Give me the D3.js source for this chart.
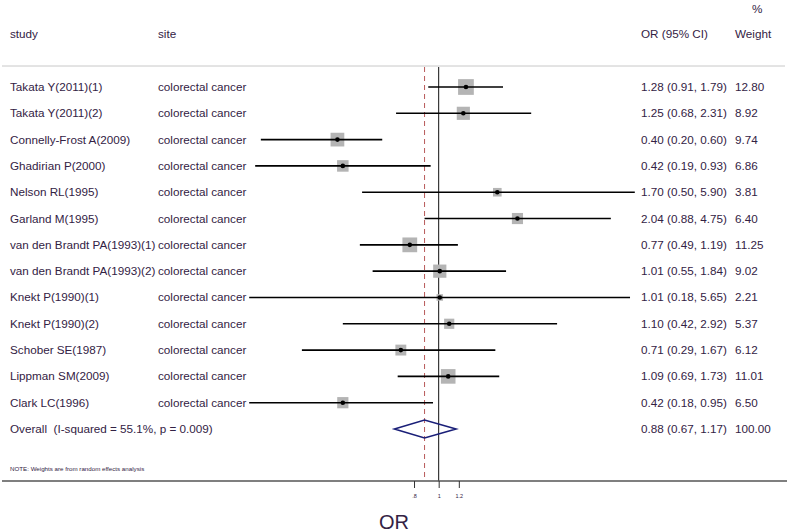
<!DOCTYPE html>
<html>
<head>
<meta charset="utf-8">
<script src="https://cdn.jsdelivr.net/npm/d3@7"></script>
<style>
  body { margin: 0; background: #fff; }
  text { font-family: Arial, "Liberation Sans", sans-serif; fill: #332244; white-space: pre; }
</style>
</head>
<body>
<svg id="forest"></svg>
<script>
// study rows
const studies = ["Takata Y(2011)(1)", "Takata Y(2011)(2)", "Connelly-Frost A(2009)", "Ghadirian P(2000)",
  "Nelson RL(1995)", "Garland M(1995)", "van den Brandt PA(1993)(1)", "van den Brandt PA(1993)(2)",
  "Knekt P(1990)(1)", "Knekt P(1990)(2)", "Schober SE(1987)", "Lippman SM(2009)", "Clark LC(1996)"];
const sites = studies.map(() => "colorectal cancer");
const or = [1.28, 1.25, 0.40, 0.42, 1.70, 2.04, 0.77, 1.01, 1.01, 1.10, 0.71, 1.09, 0.42];
const lower = [0.91, 0.68, 0.20, 0.19, 0.50, 0.88, 0.49, 0.55, 0.18, 0.42, 0.29, 0.69, 0.18];
const upper = [1.79, 2.31, 0.60, 0.93, 5.90, 4.75, 1.19, 1.84, 5.65, 2.92, 1.67, 1.73, 0.95];
const weights = [12.80, 8.92, 9.74, 6.86, 3.81, 6.40, 11.25, 9.02, 2.21, 5.37, 6.12, 11.01, 6.50];
const overall = { or: 0.88, lower: 0.67, upper: 1.17, weight: 100.00,
  label: "Overall  (I-squared = 55.1%, p = 0.009)" };
const tickValues = [0.8, 1, 1.2];
const tickLabels = [".8", "1", "1.2"];

const width = 787, height = 532;
const svg = d3.select("#forest").attr("width", width).attr("height", height);

const x = d3.scaleLog().domain([0.18, 5.9]).range([249.2, 634.8]);
const y = d3.scaleLinear().domain([0, 13]).range([87, 429]);
const plotTop = 67, axisY = 481;
const fs = 11.7;
const fmt = d3.format(".2f");

// header
svg.append("text").attr("x", 10).attr("y", 38).attr("font-size", fs).text("study");
svg.append("text").attr("x", 158).attr("y", 38).attr("font-size", fs).text("site");
svg.append("text").attr("x", 641).attr("y", 38).attr("font-size", fs).text("OR (95% CI)");
svg.append("text").attr("x", 752).attr("y", 13).attr("font-size", fs).text("%");
svg.append("text").attr("x", 735).attr("y", 38).attr("font-size", fs).text("Weight");
svg.append("line").attr("x1", 2).attr("x2", 785).attr("y1", 66).attr("y2", 66)
  .attr("stroke", "#c8c8c8").attr("stroke-width", 1);

// reference lines
svg.append("line").attr("x1", x(1)).attr("x2", x(1)).attr("y1", plotTop).attr("y2", axisY)
  .attr("stroke", "#111").attr("stroke-width", 1);
svg.append("line").attr("x1", x(overall.or)).attr("x2", x(overall.or)).attr("y1", plotTop).attr("y2", axisY)
  .attr("stroke", "#b85a5a").attr("stroke-width", 1).attr("stroke-dasharray", "5,4");

const rows = svg.selectAll("g.row").data(studies).enter().append("g").attr("class", "row");

rows.append("text").attr("x", 10).attr("y", (d, i) => y(i) + 4).attr("font-size", fs).text(d => d);
rows.append("text").attr("x", 158).attr("y", (d, i) => y(i) + 4).attr("font-size", fs).text((d, i) => sites[i]);
rows.append("text").attr("x", 641).attr("y", (d, i) => y(i) + 4).attr("font-size", fs)
  .text((d, i) => `${fmt(or[i])} (${fmt(lower[i])}, ${fmt(upper[i])})`);
rows.append("text").attr("x", 735).attr("y", (d, i) => y(i) + 4).attr("font-size", fs)
  .text((d, i) => fmt(weights[i]));

// weight boxes
rows.append("rect")
  .attr("x", (d, i) => x(or[i]) - Math.sqrt(weights[i]) * 2.2)
  .attr("y", (d, i) => y(i) - Math.sqrt(weights[i]) * 2.2)
  .attr("width", (d, i) => Math.sqrt(weights[i]) * 4.4)
  .attr("height", (d, i) => Math.sqrt(weights[i]) * 4.4)
  .attr("fill", "#b4b4b4");

// confidence intervals
rows.append("line")
  .attr("x1", (d, i) => x(lower[i])).attr("x2", (d, i) => x(upper[i]))
  .attr("y1", (d, i) => y(i)).attr("y2", (d, i) => y(i))
  .attr("stroke", "#000").attr("stroke-width", 1.6);

rows.append("circle").attr("cx", (d, i) => x(or[i])).attr("cy", (d, i) => y(i)).attr("r", 2.3).attr("fill", "#000");

// overall
const oy = y(13);
svg.append("text").attr("x", 10).attr("y", oy + 4).attr("font-size", fs).text(overall.label);
svg.append("text").attr("x", 641).attr("y", oy + 4).attr("font-size", fs)
  .text(`${fmt(overall.or)} (${fmt(overall.lower)}, ${fmt(overall.upper)})`);
svg.append("text").attr("x", 735).attr("y", oy + 4).attr("font-size", fs).text(fmt(overall.weight));
svg.append("path")
  .attr("d", `M${x(overall.lower)},${oy} L${x(overall.or)},${oy - 9} L${x(overall.upper)},${oy} L${x(overall.or)},${oy + 9} Z`)
  .attr("fill", "none").attr("stroke", "#1a1f78").attr("stroke-width", 1.6);

svg.append("text").attr("x", 10).attr("y", 471).attr("font-size", 6.2).text("NOTE: Weights are from random effects analysis");

// axis
svg.append("line").attr("x1", 2).attr("x2", width).attr("y1", axisY).attr("y2", axisY)
  .attr("stroke", "#555").attr("stroke-width", 1.5);
const axis = d3.axisBottom(x).tickValues(tickValues).tickFormat((d, i) => tickLabels[i]).tickSize(7).tickPadding(6);
const ag = svg.append("g").attr("transform", `translate(0,${axisY})`).call(axis);
ag.select(".domain").remove();
ag.selectAll(".tick line").attr("stroke", "#333");
ag.selectAll(".tick text").attr("font-size", 5.5).attr("fill", "#332244");

svg.append("text").attr("x", 394).attr("y", 529).attr("text-anchor", "middle").attr("font-size", 20).text("OR");
</script>
</body>
</html>
